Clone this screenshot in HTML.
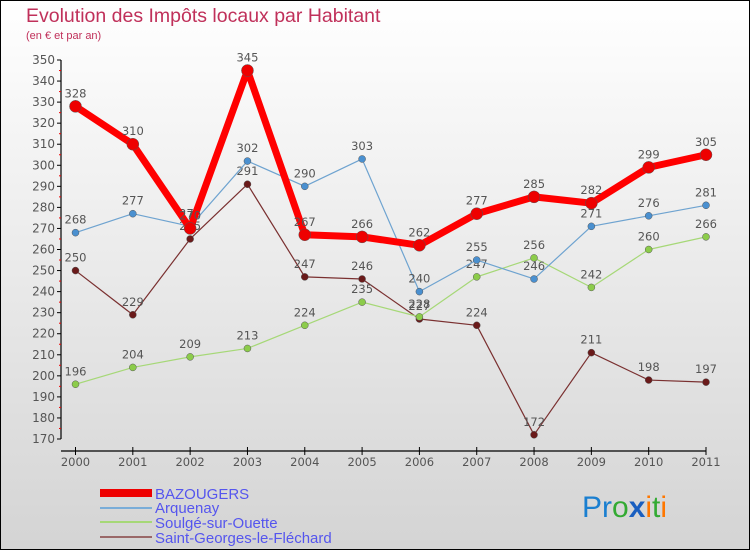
<!DOCTYPE html>
<html><head><meta charset="utf-8"><style>
body{margin:0;}
#c{width:750px;height:550px;position:relative;box-sizing:border-box;border:1px solid #000;background:linear-gradient(#fff,#d4d4d4);font-family:"DejaVu Sans","Liberation Sans",sans-serif;overflow:hidden}
</style></head><body>
<div id="c">
<svg id="s" width="750" height="550" style="position:absolute;left:-1px;top:-1px">
<text x="26" y="22" font-size="19.5" fill="#c0305a" font-family="Liberation Sans, sans-serif">Evolution des Impôts locaux par Habitant</text>
<text x="26" y="39" font-size="11" fill="#c0305a" font-family="Liberation Sans, sans-serif">(en € et par an)</text>
<g id="g"></g>
<g font-family="Liberation Sans, sans-serif">
<rect x="100" y="489" width="52" height="8" fill="#e00"/>
<text x="155" y="499" font-size="15" fill="#55e">BAZOUGERS</text>
<rect x="100" y="507" width="52" height="2" fill="#7aadd8"/>
<text x="155" y="513" font-size="15" fill="#55e">Arquenay</text>
<rect x="100" y="521" width="52" height="2" fill="#a6d877"/>
<text x="155" y="528" font-size="15" fill="#55e">Soulgé-sur-Ouette</text>
<rect x="100" y="536" width="52" height="2" fill="#9a6868"/>
<text x="155" y="543" font-size="15" fill="#55e">Saint-Georges-le-Fléchard</text>
</g>
<text x="582" y="517" font-size="30" font-family="Liberation Sans, sans-serif"><tspan fill="#1a7fd0">Pr</tspan><tspan fill="#3a3">o</tspan><tspan fill="#1a5fc0" font-weight="bold">x</tspan><tspan fill="#f70">i</tspan><tspan fill="#3a3">t</tspan><tspan fill="#f70">i</tspan></text>
</svg>
</div>
<script>
const years=["2000","2001","2002","2003","2004","2005","2006","2007","2008","2009","2010","2011"];
const bazougers=[328,310,270,345,267,266,262,277,285,282,299,305];
const arquenay=[268,277,271,302,290,303,240,255,246,271,276,281];
const soulge=[196,204,209,213,224,235,228,247,256,242,260,266];
const saintGeorges=[250,229,265,291,247,246,227,224,172,211,198,197];
const yTicks=[170,180,190,200,210,220,230,240,250,260,270,280,290,300,310,320,330,340,350];
const NS="http://www.w3.org/2000/svg",g=document.getElementById('g');
const X=i=>75.5+i*(706-75.5)/11, Y=v=>439-(v-170)*(439-60)/180;
function el(t,a,p){const e=document.createElementNS(NS,t);for(const k in a)e.setAttribute(k,a[k]);(p||g).appendChild(e);return e;}
let ax=el('path',{d:`M61 ${Y(350)} V${Y(170)} M61 451 H706`,stroke:'#000','stroke-width':1.2,fill:'none'});


yTicks.forEach(v=>{el('line',{x1:57,x2:61,y1:Y(v),y2:Y(v),stroke:'#000'});
let t=el('text',{x:55,y:Y(v)+4,'text-anchor':'end','font-size':12,fill:'#555'});t.textContent=v;


if(v<350)el('line',{x1:59,x2:61,y1:Y(v+5),y2:Y(v+5),stroke:'#e00'});});
years.forEach((y,i)=>{el('line',{x1:X(i),x2:X(i),y1:447,y2:455,stroke:'#000'});
let t=el('text',{x:X(i),y:466,'text-anchor':'middle','font-size':11.5,fill:'#555'});t.textContent=y;

});
function series(d,col,w,r,name,dot){
let p=el('polyline',{points:d.map((v,i)=>X(i)+','+Y(v)).join(' '),fill:'none',stroke:col,'stroke-width':w,'stroke-linejoin':'round'});


d.forEach((v,i)=>{let c=el('circle',{cx:X(i),cy:Y(v),r:r,fill:dot,stroke:'#555','stroke-width':0.5});


let t=el('text',{x:X(i),y:Y(v)-9,'text-anchor':'middle','font-size':11.5,fill:'#555'});t.textContent=v;

});}
series(saintGeorges,'#7a3030',1.2,3.5,'saint-georges','#6a1a1a');
series(soulge,'#a6d877',1.2,3.5,'soulge','#8ccc4a');
series(arquenay,'#6ea3d0',1.2,3.5,'arquenay','#4a90d0');
series(bazougers,'#f00',7,6,'bazougers','#e00');
</script>
</body></html>
